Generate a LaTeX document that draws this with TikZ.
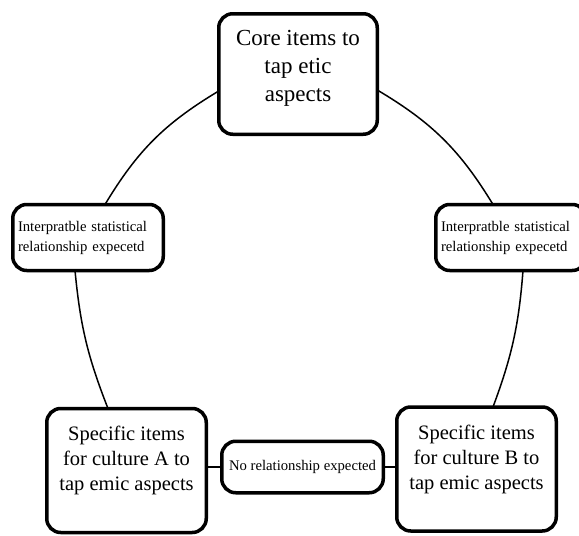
\documentclass[tikz,border=0pt]{standalone}
\usepackage{fontspec}
\setmainfont{Liberation Serif}
\usetikzlibrary{calc}
\begin{document}
\begin{tikzpicture}[x=1pt,y=-1pt,
  box/.style={draw=black, line width=3.5pt, rounded corners=14pt, fill=white,
    inner sep=0pt, outer sep=0pt, align=center},
  big/.style={box, minimum width=158.5pt, minimum height=120.5pt,
    font=\fontsize{23}{28}\selectfont, text depth=17pt},
  emic/.style={box, minimum width=159.5pt, minimum height=124pt,
    font=\fontsize{20.5}{25}\selectfont, text depth=24pt},
  rel/.style={box, minimum width=150.5pt, minimum height=66pt,
    font=\fontsize{14.7}{20}\selectfont, text width=140pt, align=left},
  none/.style={box, minimum width=161.5pt, minimum height=51.5pt,
    font=\fontsize{14.7}{20}\selectfont},
  conn/.style={line width=1.5pt}]
\useasboundingbox (0,0) rectangle (579,536);
\clip (0,0) rectangle (579,536);

\node[big] (top) at (298,74) {Core items to\\tap etic\\aspects};
\node[rel] (lm) at (88,237.5) {Interpratble statistical\\relationship expecetd};
\node[rel] (rm) at (511,237.5) {Interpratble statistical\\relationship expecetd};
\node[emic] (bl) at (126.5,470.5) {Specific items\\for culture A to\\tap emic aspects};
\node[emic] (br) at (476.5,469) {Specific items\\for culture B to\\tap emic aspects};
\node[none] (mid) at (302.5,467) {No relationship expected};

\draw[conn] ([yshift=-17pt]top.west) to[bend right=14] ([xshift=17pt]lm.north);
\draw[conn] ([xshift=-13pt]lm.south) to[bend right=8] ([xshift=-18.5pt]bl.north);
\draw[conn] ([yshift=-16pt]top.east) to[bend left=14] ([xshift=-18pt]rm.north);
\draw[conn] ([xshift=12pt]rm.south) to[bend left=8] ([xshift=16.5pt]br.north);
\draw[conn] (mid.west -| bl.east) -- (mid.west);
\draw[conn] (mid.east) -- (mid.east -| br.west);
\end{tikzpicture}
\end{document}
